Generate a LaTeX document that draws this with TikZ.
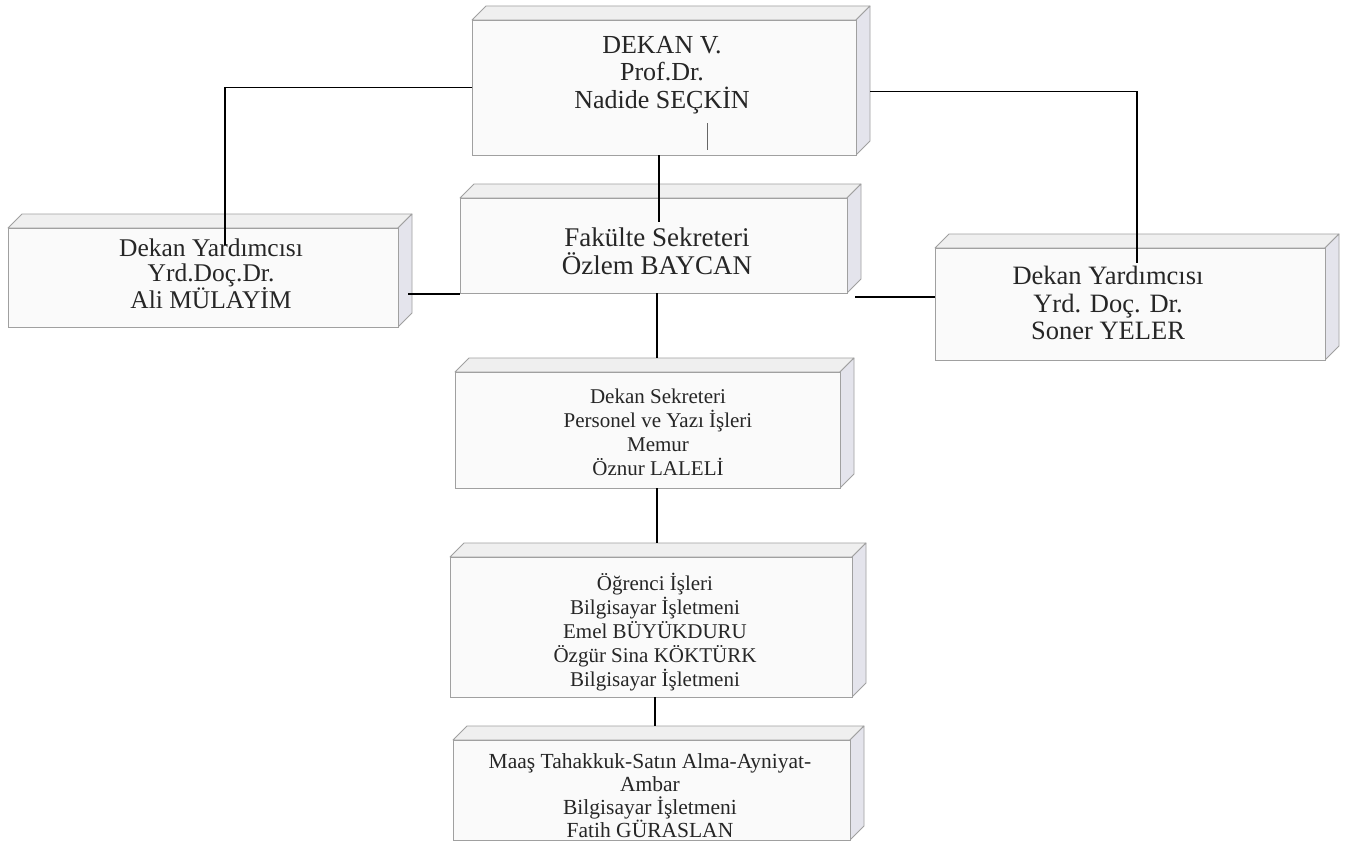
\documentclass[tikz,border=0pt]{standalone}
\usepackage{fontspec}
\setmainfont{Liberation Serif}
\usetikzlibrary{calc}
\definecolor{frontc}{HTML}{FAFAFA}
\definecolor{topc}{HTML}{EFEFEF}
\definecolor{sidec}{HTML}{E4E4EC}
\definecolor{edgec}{HTML}{A0A0A0}
\tikzset{
  frontface/.style={draw=edgec, fill=frontc, line width=0.8pt, inner sep=0pt, outer sep=0pt},
  face/.style={draw=edgec, line width=0.8pt, line join=round},
  conn/.style={draw=black, line width=1.4pt},
  txt/.style={align=center, text=black!85, inner sep=0pt},
  big/.style={font=\fontsize{26}{27.5}\selectfont},
  small/.style={font=\fontsize{21}{24}\selectfont}
}
% name, x1, y1, x2, y2
\newcommand{\cubebox}[5]{%
  \filldraw[face, fill=topc] (#2,#3) -- (#2+14,#3-14) -- (#4+14,#3-14) -- (#4,#3) -- cycle;
  \filldraw[face, fill=sidec] (#4,#3) -- (#4+14,#3-14) -- (#4+14,#5-14) -- (#4,#5) -- cycle;
  \node[frontface, minimum width={#4-#2}, minimum height={#5-#3}] (#1) at ({(#2+#4)/2},{(#3+#5)/2}) {};
}
\begin{document}
\begin{tikzpicture}[x=1pt,y=-1pt]
\useasboundingbox (0,0) rectangle (1354,843);
\fill[white] (0,0) rectangle (1354,843);

% boxes
\cubebox{dekan}{472}{20}{856}{155}
\cubebox{ali}{8}{228}{398}{327}
\cubebox{fak}{460}{198}{847}{293}
\cubebox{soner}{935}{248}{1325}{360}
\cubebox{sek}{455}{372}{840}{488}
\cubebox{ogr}{450}{557}{852}{697}
\cubebox{last}{453}{740}{850}{840}

% texts
\node[txt, big] (dekant) at (662,75) {DEKAN V.\\Prof.Dr.\\Nadide SEÇKİN};
\node[txt, font=\fontsize{25.5}{25}\selectfont] (alit) at (211,274) {Dekan Yardımcısı\\Yrd.Doç.Dr.\\Ali MÜLAYİM};
\node[txt, font=\fontsize{27}{28}\selectfont] (fakt) at (657,251) {Fakülte Sekreteri\\Özlem BAYCAN};
\node[txt, font=\fontsize{26.5}{27.5}\selectfont] (sonert) at (1108,303) {Dekan Yardımcısı\\Yrd. Doç. Dr.\\Soner YELER};
\node[txt, small] (sekt) at (658,432) {Dekan Sekreteri\\Personel ve Yazı İşleri\\Memur\\Öznur LALELİ};
\node[txt, small] (ogrt) at (655,632) {Öğrenci İşleri\\Bilgisayar İşletmeni\\Emel BÜYÜKDURU\\Özgür Sina KÖKTÜRK\\Bilgisayar İşletmeni};
\node[txt, font=\fontsize{21.5}{23}\selectfont] (lastt) at (650,796) {Maaş Tahakkuk-Satın Alma-Ayniyat-\\Ambar\\Bilgisayar İşletmeni\\Fatih GÜRASLAN};

% helper coordinates
\coordinate (aliin) at (225,245);
\coordinate (sonerin) at (1137,263);
\coordinate (fakin) at (659,222);
\coordinate (spine) at (657,0);
\coordinate (spineb) at (655,0);
\coordinate (mid1) at (0,294);
\coordinate (mid2) at (0,297);

% connectors
\draw[conn] (dekan.west) -| (aliin);
\draw[conn] ($(dekan.east)+(14,4)$) -| (sonerin);
\draw[conn] (dekan.south -| fakin) -- (fakin);
\draw[conn] ($(ali.east |- mid1)+(10,0)$) -- (fak.west |- mid1);
\draw[conn] ($(fak.east |- mid2)+(8,0)$) -- (soner.west |- mid2);
\draw[conn] (fak.south -| spine) -- ($(sek.north -| spine)+(0,-14)$);
\draw[conn] (sek.south -| spine) -- ($(ogr.north -| spine)+(0,-14)$);
\draw[conn] (ogr.south -| spineb) -- ($(last.north -| spineb)+(0,-14)$);
\draw[line width=0.6pt, black!60] (707,123) -- (707,150);
\end{tikzpicture}
\end{document}
